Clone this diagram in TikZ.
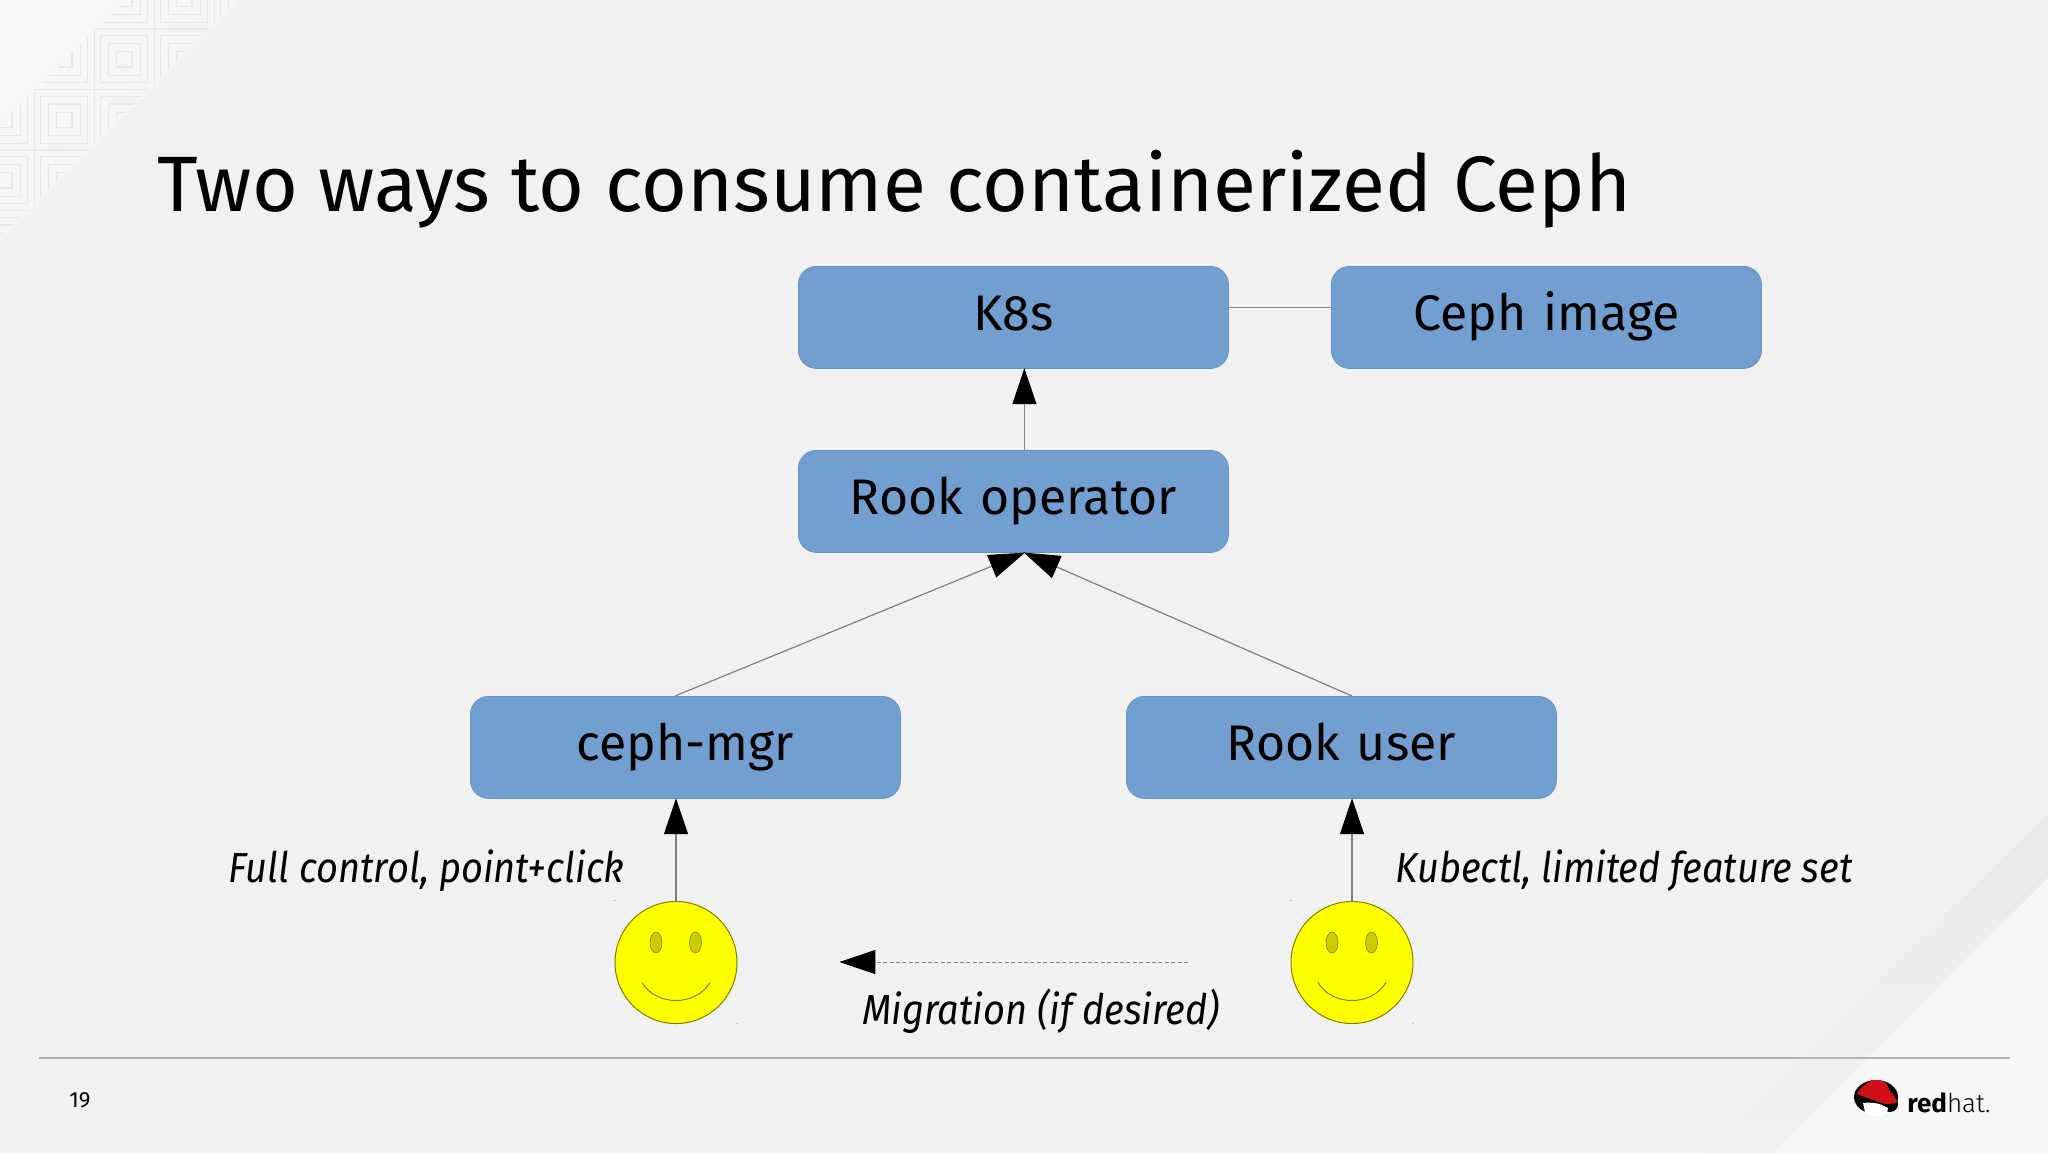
\documentclass[tikz,border=0pt]{standalone}
\usepackage{fontspec}
\setmainfont{Fira Sans}
\newfontfamily\notefont[FakeStretch=0.905]{Fira Sans}
\newfontfamily\lightfont{Fira Sans Light}
\usetikzlibrary{arrows.meta}
\definecolor{slidebg}{HTML}{F1F1F2}
\definecolor{boxblue}{HTML}{729FCF}
\definecolor{edgegray}{HTML}{808080}
\definecolor{patline}{HTML}{E7E7E8}
\definecolor{facefill}{HTML}{FFFF00}
\definecolor{eyefill}{HTML}{CCCC00}
\definecolor{faceline}{HTML}{808000}
\definecolor{hatred}{HTML}{D0111B}
\definecolor{cornerlight}{HTML}{FAFAFA}
\definecolor{cornerdark}{HTML}{EDEDEE}
\definecolor{bandgray}{HTML}{EBEBEC}
\definecolor{bandfade}{HTML}{F0F0F1}
\definecolor{paletri}{HTML}{F7F7F8}
\tikzset{
  blockbox/.style={draw=boxblue!92!black,line width=0.4pt,fill=boxblue,rounded corners=9pt,inner sep=0pt,
    minimum width=215pt,text width=215pt,align=center,text height=32pt,text depth=19pt,font=\fontsize{25}{25}\selectfont},
  note/.style={inner sep=0pt,anchor=base west,font=\fontsize{21}{21}\notefont\itshape},
  conn/.style={draw=edgegray,line width=0.6pt,-{Triangle[length=18pt,width=12pt,fill=black,color=black]},shorten >=-0.3pt},
  face/.style={draw=faceline,line width=0.5pt,fill=facefill},
  eye/.style={draw=faceline,line width=0.3pt,fill=eyefill},
}
\newcommand{\smiley}[2]{%
  \draw[face] (#1,#2) circle [radius=61];
  \draw[eye] (#1-20,#2-20) ellipse [x radius=6,y radius=10.5];
  \draw[eye] (#1+19.5,#2-20) ellipse [x radius=6,y radius=10.5];
  \draw[faceline,line width=0.5pt] (#1-34,#2+20) .. controls (#1-20,#2+44) and (#1+20,#2+44) .. (#1+34,#2+20);
  \fill[gray] (#1-61.5,#2-62) circle [radius=0.5] (#1+61,#2+61) circle [radius=0.5];
}
\begin{document}
\begin{tikzpicture}[x=0.5pt,y=-0.5pt]
\useasboundingbox (0,0) rectangle (2048,1153);
\fill[slidebg] (0,0) rectangle (2048,1153);

% corner pattern
\shade[left color=cornerlight,right color=cornerdark,shading angle=45] (0,0) -- (240,0) -- (0,240) -- cycle;
\begin{scope}
\clip (125,0) -- (238,0) -- (0,238) -- (0,125) -- cycle;
\foreach \i in {-1,...,3}
  \foreach \j in {-1,...,3}{
    \foreach \r in {30,23.5,15.8,7.7}
      \draw[patline,line width=0.6pt] (64.3+\i*60-\r,59.3+\j*60.5-\r) rectangle (64.3+\i*60+\r,59.3+\j*60.5+\r);
  }
\end{scope}

% lower right corner
\fill[paletri] (2048,877) -- (2048,1153) -- (1772,1153) -- cycle;
\shade[top color=bandgray,bottom color=bandfade] (2048,813) -- (2048,877) -- (1772,1153) -- (1705,1153) -- cycle;

% footer
\draw[draw=black!30,line width=0.6pt] (39,1058) -- (2010,1058);
\node[inner sep=0pt,anchor=base west,font=\fontsize{11}{11}\selectfont] (pagenum) at (69,1107) {19};

% title
\node[inner sep=0pt,anchor=base west,font=\fontsize{39.3}{39}\selectfont] (title) at (157,211) {Two ways to consume containerized Ceph};

% boxes
\node[blockbox,anchor=north west] (k8s) at (798,266) {K8s};
\node[blockbox,anchor=north west] (image) at (1331,266) {Ceph image};
\node[blockbox,anchor=north west] (operator) at (798,450) {Rook operator};
\node[blockbox,anchor=north west] (mgr) at (470,696) {ceph-mgr};
\node[blockbox,anchor=north west] (user) at (1126,696) {Rook user};

% people
\smiley{676}{962.5}
\smiley{1352}{962.5}
\coordinate (leftface) at (676,901.5);
\coordinate (rightface) at (1352,901.5);

% arrows
\draw[draw=edgegray,line width=0.6pt] ([yshift=5pt]k8s.east) -- ([yshift=5pt]image.west);
\draw[conn] ([xshift=5.5pt]operator.north) -- ([xshift=5.5pt]k8s.south);
\draw[conn] ([xshift=-5.25pt]mgr.north) -- ([xshift=5.5pt]operator.south);
\draw[conn] ([xshift=5.25pt]user.north) -- ([xshift=5.5pt]operator.south);
\draw[conn] (leftface) -- (leftface |- mgr.south);
\draw[conn] (rightface) -- (rightface |- user.south);

\coordinate (migstart) at (1188,962);
\coordinate (migend) at (840,962);
\draw[conn,line width=0.5pt,dash pattern=on 2pt off 1.2pt] (migstart) -- (migend);

% notes
\node[note] (fullnote) at (228,882) {Full control, point+click};
\node[note] (kubenote) at (1395,882) {Kubectl, limited feature set};
\node[note] (mignote) at (862,1024) {Migration (if desired)};

% logo
\fill[black] (1876,1097) ellipse [x radius=22,y radius=17];
\fill[black] (1890,1104) circle [radius=8];
\fill[white] (1863,1103) .. controls (1870,1102) and (1878,1103) .. (1882,1105) -- (1888,1108) -- (1887,1113) .. controls (1880,1118) and (1870,1117) .. (1865,1112) -- cycle;
\fill[hatred] (1857,1094) .. controls (1860,1088) and (1862,1087) .. (1865,1085) .. controls (1868,1081) and (1873,1080) .. (1877,1080) .. controls (1883,1080) and (1887,1083) .. (1888,1087) .. controls (1889,1092) and (1896,1096) .. (1897,1102) .. controls (1890,1105) and (1884,1104) .. (1882,1103) .. controls (1875,1101) and (1870,1098) .. (1865,1097) -- cycle;
\node[inner sep=0pt,anchor=base west,font=\fontsize{13}{13}\selectfont] (logotext) at (1907,1112) {\textbf{red}{\lightfont hat.}};
\end{tikzpicture}
\end{document}
